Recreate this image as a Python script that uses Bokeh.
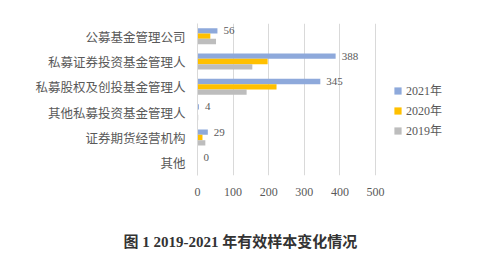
from bokeh.plotting import figure
from bokeh.layouts import column
from bokeh.models import ColumnDataSource, FactorRange, Legend, LegendItem, LabelSet, Label
from bokeh.transform import dodge
from bokeh.embed import file_html
from bokeh.resources import INLINE

categories = ["公募基金管理公司", "私募证券投资基金管理人", "私募股权及创投基金管理人",
              "其他私募投资基金管理人", "证券期货经营机构", "其他"]
v2021 = [56, 388, 345, 4, 29, 0]
v2020 = [36, 197, 222, 1, 14, 0]
v2019 = [52, 154, 138, 2, 22, 0]
series_names = ["2021年", "2020年", "2019年"]
x_ticks = [0, 100, 200, 300, 400, 500]
caption = "图 1  2019-2021 年有效样本变化情况"

colors = ["#8EA9DB", "#FFC000", "#BDBDBD"]

src = ColumnDataSource(data=dict(cat=categories, v2021=v2021, v2020=v2020, v2019=v2019,
                                 lbl=[str(v) for v in v2021]))

# frame spans to the right edge so the legend can sit inside it; axis data range
# 0..500 occupies the first 178 px of the frame
frame_left, frame_right = 197, 493
x_end = 500 * (frame_right - frame_left) / 178.0
main_h = 210
cap_h = 263 - main_h

p = figure(width=498, height=main_h, output_backend="svg", toolbar_location=None,
           y_range=FactorRange(factors=list(reversed(categories)), range_padding=0),
           x_range=(0, x_end),
           min_border_left=frame_left, min_border_right=498 - frame_right,
           min_border_top=23, min_border_bottom=main_h - 175)
p.frame_align = False

bw = 0.21
r1 = p.hbar(y=dodge("cat", bw, range=p.y_range), right="v2021", height=bw, left=0,
            source=src, color=colors[0], line_color=None)
r2 = p.hbar(y=dodge("cat", 0, range=p.y_range), right="v2020", height=bw, left=0,
            source=src, color=colors[1], line_color=None)
r3 = p.hbar(y=dodge("cat", -bw, range=p.y_range), right="v2019", height=bw, left=0,
            source=src, color=colors[2], line_color=None)

labels = LabelSet(x="v2021", y=dodge("cat", bw, range=p.y_range), text="lbl", source=src,
                  x_offset=6, text_baseline="middle", text_font_size="11px",
                  text_font="Liberation Serif", text_color="#595959")
p.add_layout(labels)

p.outline_line_color = None
p.ygrid.grid_line_color = None
p.xgrid.grid_line_color = "#D9D9D9"
p.xaxis.ticker = x_ticks
p.xgrid.ticker = x_ticks
p.xaxis.axis_line_color = None
p.xaxis.major_tick_line_color = None
p.xaxis.minor_tick_line_color = None
p.xaxis.major_label_text_font = "Liberation Serif"
p.xaxis.major_label_text_font_size = "12px"
p.xaxis.major_label_text_color = "#595959"
p.xaxis.major_label_standoff = 6

p.yaxis.axis_line_color = "#D9D9D9"
p.yaxis.major_tick_line_color = None
p.yaxis.minor_tick_line_color = None
p.yaxis.major_label_text_font = "Noto Sans CJK SC"
p.yaxis.major_label_text_font_size = "12.5px"
p.yaxis.major_label_text_color = "#595959"
p.yaxis.major_label_standoff = 6

legend = Legend(items=[LegendItem(label=series_names[0], renderers=[r1]),
                       LegendItem(label=series_names[1], renderers=[r2]),
                       LegendItem(label=series_names[2], renderers=[r3])],
                location=(196, 36), orientation="vertical",
                glyph_width=9, glyph_height=9, label_height=14, spacing=2,
                label_standoff=4, padding=0, margin=0,
                border_line_color=None, background_fill_alpha=0,
                label_text_font="'Liberation Serif', 'Noto Sans CJK SC'",
                label_text_font_size="12px", label_text_color="#595959")
p.add_layout(legend)

# caption strip
c = figure(width=498, height=cap_h, output_backend="svg", toolbar_location=None,
           x_range=(0, 498), y_range=(0, cap_h), min_border=0)
c.frame_align = False
c.axis.visible = False
c.grid.visible = False
c.outline_line_color = None
c.add_layout(Label(x=123, y=cap_h - 31, text=caption, text_align="left",
                   text_baseline="middle", text_font_size="15px", text_font_style="bold",
                   text_font="'Liberation Serif', 'Noto Sans CJK SC'", text_color="#333333"))

layout = column(p, c, spacing=0)
open("out.html", "w").write(file_html(layout, INLINE))
